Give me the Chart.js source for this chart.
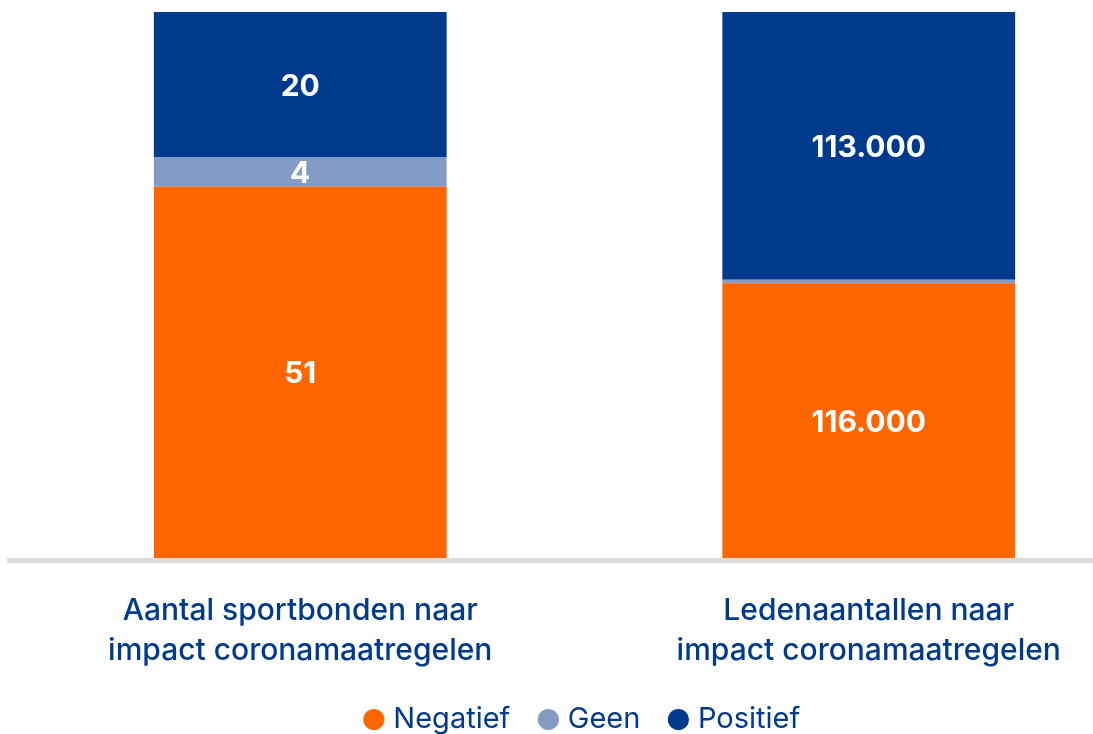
<!DOCTYPE html>
<html>
<head>
<meta charset="utf-8">
<script src="https://cdn.jsdelivr.net/npm/chart.js@4/dist/chart.umd.min.js"></script>
<style>
  html, body { margin: 0; padding: 0; background: #fff; overflow: hidden; }
  #wrap { position: absolute; left: 0; top: 0; width: 1153px; height: 744px; }
</style>
</head>
<body>
<div id="wrap"><canvas id="chart" width="1153" height="744"></canvas></div>
<script>
const categories = [
  ['Aantal sportbonden naar', 'impact coronamaatregelen'],
  ['Ledenaantallen naar', 'impact coronamaatregelen']
];
const negatief = [51, 116000];
const geen = [4, 1500];
const positief = [20, 113000];

const colors = {
  negatief: '#ff6600',
  geen: '#839cc5',
  positief: '#003a8c'
};

const totals = categories.map((c, i) => negatief[i] + geen[i] + positief[i]);
const pct = arr => arr.map((v, i) => v / totals[i] * 100);

const fmt = v => v.toLocaleString('nl-NL');
const FONT = 'Inter, "Noto Sans", sans-serif';

// grey base line, a bit wider than the plot area
const baseLine = {
  id: 'baseLine',
  afterDatasetsDraw(chart) {
    const ctx = chart.ctx;
    ctx.save();
    ctx.fillStyle = '#dcdcdc';
    ctx.fillRect(7, chart.chartArea.bottom, chart.width - 7, 5);
    ctx.restore();
  }
};

// draw raw values centered in each segment
const valueLabels = {
  id: 'valueLabels',
  afterDatasetsDraw(chart) {
    const ctx = chart.ctx;
    ctx.save();
    ctx.fillStyle = '#ffffff';
    ctx.font = 'bold 30px ' + FONT;
    ctx.textAlign = 'center';
    ctx.textBaseline = 'middle';
    chart.data.datasets.forEach((ds, di) => {
      chart.getDatasetMeta(di).data.forEach((bar, i) => {
        const h = Math.abs(bar.base - bar.y);
        if (h < 20) return;
        ctx.fillText(fmt(ds.raw[i]), bar.x, (bar.y + bar.base) / 2 + 2);
      });
    });
    ctx.restore();
  }
};

new Chart(document.getElementById('chart'), {
  type: 'bar',
  data: {
    labels: categories,
    datasets: [
      { label: 'Negatief', data: pct(negatief), raw: negatief, backgroundColor: colors.negatief },
      { label: 'Geen', data: pct(geen), raw: geen, backgroundColor: colors.geen },
      { label: 'Positief', data: pct(positief), raw: positief, backgroundColor: colors.positief }
    ]
  },
  options: {
    responsive: false,
    animation: false,
    layout: { padding: { top: 12, left: 16, right: 0, bottom: 0 } },
    datasets: {
      bar: { categoryPercentage: 1, barPercentage: 0.515, borderWidth: 0 }
    },
    scales: {
      x: {
        stacked: true,
        grid: { display: false },
        border: { display: false },
        afterFit: scale => { scale.height = 114; },
        ticks: {
          color: '#003a8c',
          padding: 25,
          font: { family: FONT, size: 30, weight: '500', lineHeight: 1.333 }
        }
      },
      y: {
        stacked: true,
        display: false,
        min: 0,
        max: 100
      }
    },
    plugins: {
      legend: {
        position: 'bottom',
        labels: {
          usePointStyle: true,
          pointStyle: 'circle',
          boxWidth: 10,
          boxHeight: 15,
          padding: 33,
          color: '#003a8c',
          font: { family: FONT, size: 29 }
        }
      },
      tooltip: { enabled: false }
    }
  },
  plugins: [baseLine, valueLabels]
});
</script>
</body>
</html>
